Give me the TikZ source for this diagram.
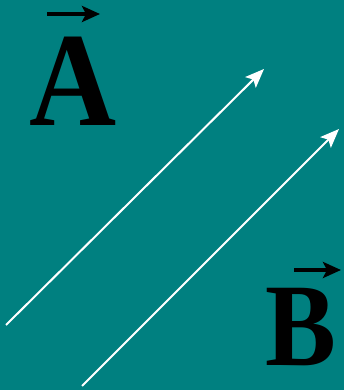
\documentclass[tikz,border=0pt]{standalone}
\usepackage{fontspec}
\setmainfont{Liberation Serif}
\usetikzlibrary{arrows.meta}
\definecolor{bg}{HTML}{008080}
\tikzset{
  letter/.style={inner sep=0pt, anchor=base west, font=\bfseries, xscale=0.9, transform shape},
  whitearrow/.style={draw=white, line width=2pt, -{Stealth[length=19pt,width=15pt,inset=4pt]}},
  vecarrow/.style={draw=black, line width=4pt, -{Stealth[length=18pt,width=16pt,inset=4pt]}}
}
\begin{document}
\begin{tikzpicture}[x=1pt,y=1pt]
\fill[bg] (0,0) rectangle (344,390);
\useasboundingbox (0,0) rectangle (344,390);
\node[letter, font=\bfseries\fontsize{134}{134}\selectfont] (A) at (29,264) {A};
\node[letter, font=\bfseries\fontsize{118}{118}\selectfont] (B) at (265,24) {B};
\coordinate (a1) at (47,376);
\coordinate (a2) at (100,376);
\coordinate (b1) at (294,120);
\coordinate (b2) at (341,120);
\draw[vecarrow] (a1) -- (a2);
\draw[vecarrow] (b1) -- (b2);
\coordinate (p1) at (6,65);
\coordinate (p2) at (264,321);
\coordinate (q1) at (82,4);
\coordinate (q2) at (339,261);
\draw[whitearrow] (p1) -- (p2);
\draw[whitearrow] (q1) -- (q2);
\end{tikzpicture}
\end{document}
